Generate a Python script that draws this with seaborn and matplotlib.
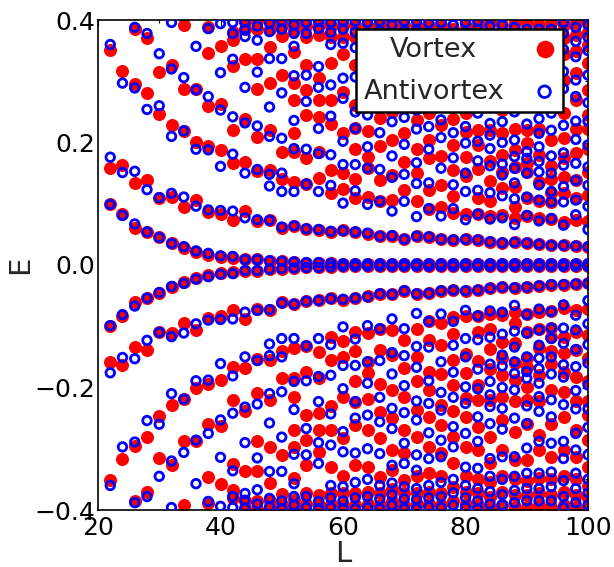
import matplotlib
matplotlib.use("Agg")
import matplotlib.pyplot as plt
from matplotlib.ticker import MultipleLocator
import seaborn as sns
import pandas as pd

# system sizes L
L_values = [22, 24, 26, 28, 30, 32, 34, 36, 38, 40,
            42, 44, 46, 48, 50, 52, 54, 56, 58, 60,
            62, 64, 66, 68, 70, 72, 74, 76, 78, 80,
            82, 84, 86, 88, 90, 92, 94, 96, 98, 100]

# positive energy levels (spectrum is symmetric in E)
vortex_E = [
    [0.099, 0.159, 0.351],
    [0.083, 0.164, 0.317],
    [0.061, 0.134, 0.295, 0.385],
    [0.054, 0.138, 0.281, 0.371],
    [0.045, 0.110, 0.246, 0.315],
    [0.036, 0.111, 0.228, 0.327],
    [0.028, 0.095, 0.219, 0.287, 0.392],
    [0.022, 0.106, 0.201, 0.288],
    [0.017, 0.086, 0.194, 0.260, 0.346, 0.389],
    [0.013, 0.084, 0.187, 0.263, 0.357],
    [0.012, 0.074, 0.166, 0.220, 0.325, 0.368, 0.381],
    [0.010, 0.088, 0.168, 0.238, 0.336, 0.386, 0.397],
    [0.009, 0.072, 0.154, 0.209, 0.288, 0.337, 0.385, 0.398],
    [0.007, 0.073, 0.155, 0.220, 0.297, 0.356, 0.386, 0.398],
    [0.006, 0.060, 0.140, 0.185, 0.310, 0.374, 0.392],
    [0.005, 0.064, 0.136, 0.185, 0.215, 0.270, 0.297, 0.348, 0.384, 0.397],
    [0.004, 0.058, 0.132, 0.174, 0.245, 0.286, 0.327, 0.372, 0.390],
    [0.004, 0.057, 0.142, 0.185, 0.242, 0.270, 0.306, 0.376, 0.392],
    [0.003, 0.054, 0.117, 0.155, 0.231, 0.269, 0.329, 0.372, 0.390],
    [0.002, 0.057, 0.124, 0.150, 0.215, 0.283, 0.345, 0.372, 0.392],
    [0.002, 0.054, 0.109, 0.141, 0.190, 0.223, 0.262, 0.326, 0.372, 0.392],
    [0.002, 0.051, 0.111, 0.158, 0.176, 0.218, 0.270, 0.330, 0.370, 0.390],
    [0.002, 0.048, 0.105, 0.139, 0.194, 0.240, 0.283, 0.346, 0.372, 0.392],
    [0.002, 0.048, 0.106, 0.147, 0.204, 0.250, 0.302, 0.335, 0.365, 0.385, 0.398],
    [0.002, 0.042, 0.122, 0.168, 0.215, 0.269, 0.307, 0.351, 0.372, 0.392],
    [0.002, 0.047, 0.104, 0.150, 0.190, 0.237, 0.280, 0.345, 0.372, 0.390],
    [0.002, 0.046, 0.092, 0.122, 0.175, 0.204, 0.248, 0.297, 0.340, 0.370, 0.390],
    [0.002, 0.042, 0.095, 0.130, 0.178, 0.228, 0.261, 0.307, 0.345, 0.372, 0.392],
    [0.002, 0.041, 0.085, 0.112, 0.155, 0.196, 0.238, 0.280, 0.324, 0.362, 0.385],
    [0.002, 0.042, 0.084, 0.146, 0.176, 0.217, 0.248, 0.297, 0.345, 0.370, 0.390],
    [0.002, 0.041, 0.083, 0.110, 0.157, 0.196, 0.220, 0.264, 0.302, 0.350, 0.372, 0.392],
    [0.002, 0.038, 0.080, 0.104, 0.137, 0.170, 0.220, 0.280, 0.324, 0.355, 0.378, 0.396],
    [0.002, 0.036, 0.082, 0.125, 0.152, 0.180, 0.216, 0.253, 0.302, 0.345, 0.370, 0.392],
    [0.002, 0.037, 0.076, 0.095, 0.128, 0.160, 0.188, 0.222, 0.272, 0.318, 0.350, 0.375, 0.395],
    [0.002, 0.036, 0.080, 0.109, 0.152, 0.166, 0.199, 0.220, 0.259, 0.318, 0.352, 0.375, 0.395],
    [0.002, 0.034, 0.076, 0.104, 0.136, 0.180, 0.222, 0.278, 0.302, 0.348, 0.372, 0.392],
    [0.002, 0.032, 0.075, 0.103, 0.117, 0.141, 0.161, 0.204, 0.259, 0.313, 0.350, 0.375, 0.395],
    [0.002, 0.032, 0.070, 0.118, 0.143, 0.174, 0.207, 0.248, 0.302, 0.345, 0.370, 0.392],
    [0.002, 0.031, 0.074, 0.110, 0.139, 0.183, 0.222, 0.270, 0.313, 0.350, 0.375, 0.395],
    [0.002, 0.030, 0.072, 0.115, 0.152, 0.190, 0.222, 0.245, 0.286, 0.330, 0.360, 0.380, 0.398],
]

antivortex_E = [
    [0.099, 0.176, 0.360],
    [0.081, 0.151, 0.297],
    [0.067, 0.153, 0.289, 0.388],
    [0.054, 0.123, 0.254, 0.378],
    [0.045, 0.110, 0.260, 0.345],
    [0.035, 0.117, 0.210, 0.320, 0.396],
    [0.030, 0.111, 0.219, 0.306],
    [0.023, 0.096, 0.189, 0.286, 0.357],
    [0.019, 0.090, 0.188, 0.275, 0.386],
    [0.015, 0.089, 0.161, 0.253, 0.314, 0.394],
    [0.014, 0.088, 0.181, 0.242, 0.336, 0.378, 0.396],
    [0.009, 0.077, 0.150, 0.232, 0.290, 0.373, 0.384, 0.397],
    [0.009, 0.074, 0.156, 0.227, 0.315, 0.367, 0.390],
    [0.007, 0.073, 0.129, 0.148, 0.210, 0.258, 0.337, 0.381, 0.395],
    [0.006, 0.062, 0.120, 0.150, 0.207, 0.281, 0.337, 0.385, 0.398],
    [0.005, 0.064, 0.120, 0.190, 0.236, 0.309, 0.357, 0.378, 0.392],
    [0.004, 0.059, 0.132, 0.189, 0.267, 0.310, 0.378, 0.396],
    [0.004, 0.058, 0.120, 0.182, 0.223, 0.290, 0.324, 0.386, 0.398],
    [0.003, 0.055, 0.130, 0.180, 0.243, 0.294, 0.360, 0.380, 0.396],
    [0.002, 0.056, 0.101, 0.164, 0.202, 0.272, 0.305, 0.362, 0.385, 0.398],
    [0.002, 0.054, 0.121, 0.164, 0.223, 0.250, 0.307, 0.355, 0.380, 0.398],
    [0.002, 0.052, 0.099, 0.158, 0.193, 0.245, 0.300, 0.350, 0.378, 0.396],
    [0.002, 0.047, 0.104, 0.156, 0.216, 0.256, 0.308, 0.360, 0.382, 0.398],
    [0.002, 0.048, 0.088, 0.143, 0.178, 0.234, 0.267, 0.327, 0.356, 0.375, 0.392],
    [0.002, 0.042, 0.104, 0.148, 0.197, 0.241, 0.291, 0.324, 0.362, 0.382, 0.398],
    [0.002, 0.047, 0.079, 0.133, 0.167, 0.222, 0.253, 0.310, 0.335, 0.365, 0.383, 0.398],
    [0.002, 0.046, 0.092, 0.134, 0.189, 0.226, 0.274, 0.316, 0.360, 0.380, 0.395],
    [0.002, 0.042, 0.080, 0.158, 0.208, 0.237, 0.286, 0.313, 0.355, 0.378, 0.396],
    [0.002, 0.041, 0.092, 0.131, 0.175, 0.216, 0.264, 0.297, 0.350, 0.372, 0.392],
    [0.002, 0.042, 0.074, 0.120, 0.150, 0.199, 0.226, 0.275, 0.330, 0.360, 0.380, 0.396],
    [0.002, 0.041, 0.083, 0.122, 0.170, 0.202, 0.248, 0.288, 0.332, 0.365, 0.385, 0.398],
    [0.002, 0.038, 0.075, 0.118, 0.162, 0.190, 0.212, 0.231, 0.259, 0.316, 0.345, 0.370, 0.390],
    [0.002, 0.036, 0.077, 0.113, 0.147, 0.165, 0.200, 0.234, 0.268, 0.313, 0.350, 0.375, 0.392],
    [0.002, 0.037, 0.066, 0.108, 0.134, 0.158, 0.177, 0.204, 0.250, 0.313, 0.345, 0.368, 0.388],
    [0.002, 0.036, 0.081, 0.111, 0.150, 0.174, 0.185, 0.230, 0.259, 0.299, 0.340, 0.365, 0.385],
    [0.002, 0.034, 0.072, 0.106, 0.131, 0.152, 0.169, 0.193, 0.215, 0.239, 0.288, 0.340, 0.365, 0.385],
    [0.002, 0.032, 0.076, 0.103, 0.120, 0.150, 0.178, 0.220, 0.248, 0.291, 0.338, 0.362, 0.385],
    [0.002, 0.032, 0.065, 0.103, 0.128, 0.163, 0.183, 0.228, 0.288, 0.316, 0.352, 0.378, 0.396],
    [0.002, 0.031, 0.082, 0.106, 0.138, 0.166, 0.205, 0.235, 0.275, 0.302, 0.340, 0.365, 0.388],
    [0.002, 0.030, 0.058, 0.096, 0.130, 0.160, 0.196, 0.235, 0.265, 0.310, 0.350, 0.372, 0.392],
]


def to_frame(levels):
    # every level E comes with its partner -E
    rows = []
    for L, es in zip(L_values, levels):
        for e in es:
            rows.append((L, e))
            rows.append((L, -e))
    return pd.DataFrame(rows, columns=["L", "E"])


df_v = to_frame(vortex_E)
df_a = to_frame(antivortex_E)

sns.set_style("white")
plt.rcParams["font.family"] = ["DejaVu Sans"]

fig = plt.figure(figsize=(6.14, 5.67), dpi=100)
ax = fig.add_axes([98 / 614, 1 - 510 / 567, 490 / 614, 490 / 567])

sns.scatterplot(data=df_v, x="L", y="E", color="#ff0000", s=88, linewidth=0,
                label="Vortex", ax=ax, zorder=2)
sns.scatterplot(data=df_a, x="L", y="E", color="#0000ff", facecolors="none",
                edgecolor="#0000ff", s=38, linewidth=2.0,
                label="Antivortex", ax=ax, zorder=3)

ax.set_xlim(20, 100)
ax.set_ylim(-0.4, 0.4)
ax.xaxis.set_major_locator(MultipleLocator(20))
ax.xaxis.set_minor_locator(MultipleLocator(10))
ax.yaxis.set_major_locator(MultipleLocator(0.2))
ax.yaxis.set_minor_locator(MultipleLocator(0.05))
ax.set_yticks([-0.4, -0.2, 0.0, 0.2, 0.4])
ax.set_yticklabels(["\u22120.4", "\u22120.2", "0.0", "0.2", "0.4"])
ax.tick_params(which="both", direction="in", top=True, right=True,
               labelsize=18, colors="black")
ax.tick_params(which="major", length=4.5, width=0.8, pad=4)
ax.tick_params(which="minor", length=2.5, width=0.8)
ax.tick_params(axis="y", pad=2)
for sp in ax.spines.values():
    sp.set_color("black")
    sp.set_linewidth(1.2)

ax.set_xlabel("L", fontsize=21, labelpad=0)
ax.set_ylabel("E", fontsize=21, labelpad=0)

leg = ax.legend(loc="upper right", bbox_to_anchor=(465 / 490, 481 / 490),
                borderaxespad=0, markerfirst=False, fontsize=19.5,
                markerscale=1.35, fancybox=False, framealpha=1,
                edgecolor="black", handlelength=0.8, handletextpad=1.1,
                labelspacing=0.6, borderpad=0.28)
leg.get_frame().set_linewidth(1.8)

# centre the shorter label over the longer one, markers stay aligned
fig.canvas.draw()
rend = fig.canvas.get_renderer()
widths = [t.get_window_extent(rend).width for t in leg.get_texts()]
entries = leg._legend_handle_box.get_children()[0].get_children()
shift_pt = (max(widths) - widths[0]) / 2 * 72 / fig.dpi
entries[0].sep = entries[0].sep + shift_pt

fig.savefig("out.png", dpi=100)
